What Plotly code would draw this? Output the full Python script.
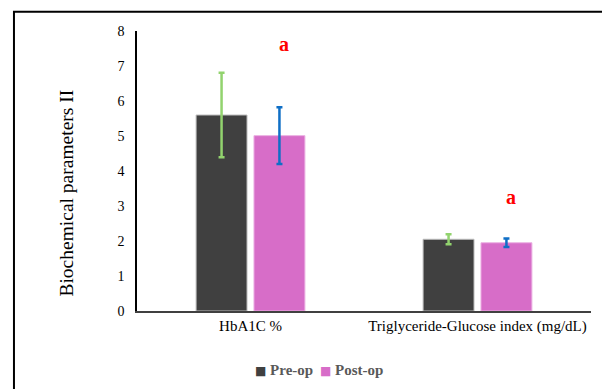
import plotly.graph_objects as go

categories = ["HbA1C %", "Triglyceride-Glucose index (mg/dL)"]
pre_op = [5.6, 2.05]
pre_err = [1.21, 0.14]
post_op = [5.01, 1.95]
post_err = [0.81, 0.12]
sig_labels = ["a", "a"]
sig_y = [7.63, 3.26]
series_names = ["Pre-op", "Post-op"]
series_colors = ["#404040", "#D76DC8"]
legend_x = [0.2555, 0.3987]
y_title = "Biochemical parameters II"

FONT = "Liberation Serif"

fig = go.Figure()
fig.add_trace(go.Bar(
    name=series_names[0], x=categories, y=pre_op, showlegend=False,
    marker=dict(color=series_colors[0], line=dict(color="#BFBFBF", width=1)),
    error_y=dict(type="data", array=pre_err, color="#92D36E", thickness=2.5, width=3),
))
fig.add_trace(go.Bar(
    name=series_names[1], x=categories, y=post_op, showlegend=False,
    marker=dict(color=series_colors[1], line=dict(color="#EBB0E2", width=1)),
    error_y=dict(type="data", array=post_err, color="#0F6FC6", thickness=2.5, width=3),
))

for c, t, yv in zip(categories, sig_labels, sig_y):
    fig.add_annotation(x=c, y=yv, text="<b>%s</b>" % t, showarrow=False, xshift=33,
                       font=dict(family=FONT, size=20, color="#FF0000"))

# legend drawn as text entries with square swatches
for n, c, lx in zip(series_names, series_colors, legend_x):
    fig.add_annotation(xref="paper", yref="paper", x=lx, y=-0.211, xanchor="left", yanchor="middle",
                       showarrow=False,
                       text="<span style='color:%s;font-family:DejaVu Sans;font-size:12px'>■</span> <b>%s</b>" % (c, n),
                       font=dict(family=FONT, size=15, color="#595959"))

# y-axis title (placed slightly below the axis centre as in the original)
fig.add_annotation(xref="paper", yref="paper", x=-0.156, y=0.42, xanchor="center", yanchor="middle",
                   textangle=-90, showarrow=False, text=y_title,
                   font=dict(family=FONT, size=19.5, color="#000000"))

# outer border
fig.add_shape(type="rect", xref="paper", yref="paper", x0=-0.271, x1=1.031, y0=-0.45, y1=1.069,
              line=dict(color="black", width=2), fillcolor="rgba(0,0,0,0)", layer="below")

fig.update_layout(
    width=610, height=389,
    margin=dict(l=129, r=27, t=23, b=86, autoexpand=False),
    paper_bgcolor="white", plot_bgcolor="white",
    barmode="group", bargap=0.49, bargroupgap=0.12,
    font=dict(family=FONT, color="#000000", size=14),
    showlegend=False,
    xaxis=dict(showline=True, linecolor="#404040", linewidth=1.5, ticks="",
               tickfont=dict(family=FONT, size=15, color="#000000"), showgrid=False),
    yaxis=dict(range=[0, 8], dtick=1, showline=True, linecolor="black", linewidth=1.5,
               ticks="", showgrid=False, zeroline=False,
               tickfont=dict(family=FONT, size=14, color="#000000"), ticklabelstandoff=8),
)

fig.write_html("out.html")
